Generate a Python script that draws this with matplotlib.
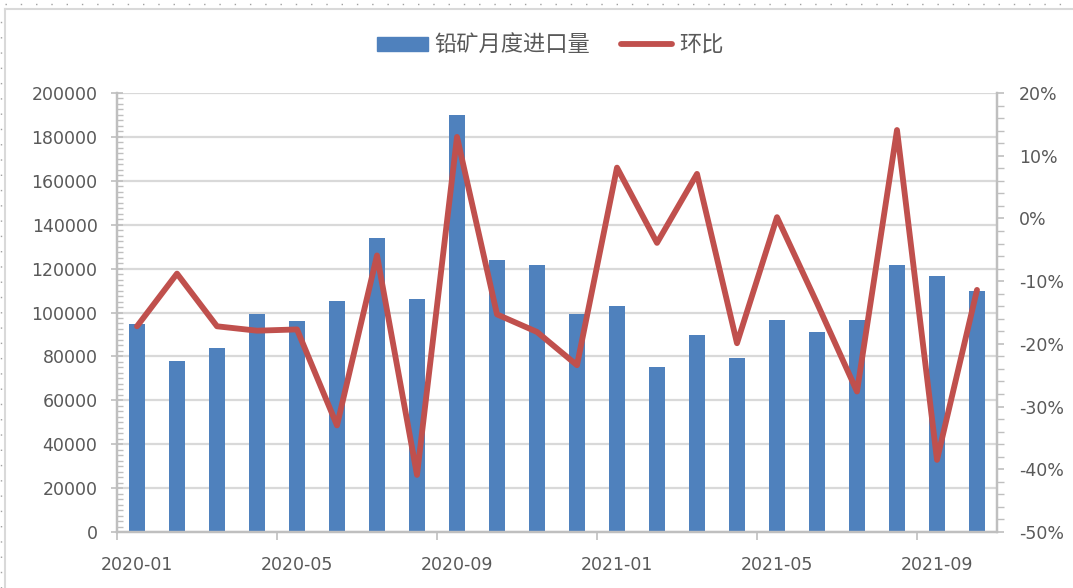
import numpy as np
import matplotlib.pyplot as plt
from matplotlib.ticker import MultipleLocator, FuncFormatter, FixedLocator
from matplotlib.lines import Line2D
from matplotlib.patches import Patch

months = ['2020-01', '2020-02', '2020-03', '2020-04', '2020-05', '2020-06',
          '2020-07', '2020-08', '2020-09', '2020-10', '2020-11', '2020-12',
          '2021-01', '2021-02', '2021-03', '2021-04', '2021-05', '2021-06',
          '2021-07', '2021-08', '2021-09', '2021-10']
imports = [94600, 78000, 83700, 99200, 96000, 105200, 133800, 106300, 190000,
           123900, 121800, 99200, 103000, 75300, 89700, 79400, 96400, 91000,
           96400, 121600, 116800, 109600]
mom = [-17.2, -8.8, -17.2, -17.9, -17.7, -33.0, -5.9, -40.9, 13.0, -15.3,
       -18.1, -23.4, 8.1, -3.9, 7.1, -19.9, 0.2, -13.5, -27.6, 14.1, -38.5,
       -11.4]

bar_label = '铅矿月度进口量'
line_label = '环比'

blue = '#4F81BD'
red = '#C0504D'
grid_c = '#D9D9D9'
axis_c = '#BFBFBF'
text_c = '#595959'

plt.rcParams['font.family'] = ['DejaVu Sans']

fig = plt.figure(figsize=(10.73, 5.88), dpi=100)
ax = fig.add_axes([117 / 1073, 1 - 532 / 588, 880 / 1073, 439 / 588])
ax2 = ax.twinx()

x = np.arange(len(months))
ax.bar(x, imports, width=0.4, color=blue, zorder=2)
ax2.plot(x, mom, color=red, lw=4.2, solid_joinstyle='round',
         solid_capstyle='round', zorder=3)

ax.set_xlim(-0.5, len(months) - 0.5)
ax.set_ylim(0, 200000)
ax2.set_ylim(-50, 20)

# gridlines / left axis
ax.yaxis.set_major_locator(MultipleLocator(20000))
ax.yaxis.set_minor_locator(MultipleLocator(2500))
ax.grid(axis='y', which='major', color=grid_c, lw=1.6, zorder=0)
ax.set_axisbelow(True)
ax.tick_params(axis='y', which='major', direction='inout', length=8,
               width=1.2, color=axis_c, labelsize=12.5, labelcolor=text_c,
               pad=10)
ax.tick_params(axis='y', which='minor', direction='in', length=4,
               width=1, color=axis_c)

# right axis
ax2.yaxis.set_major_locator(MultipleLocator(10))
ax2.yaxis.set_minor_locator(MultipleLocator(2))
ax2.yaxis.set_major_formatter(FuncFormatter(lambda v, p: '%d%%' % v))
ax2.tick_params(axis='y', which='major', direction='out', length=5,
                width=1.2, color=axis_c, labelsize=12.5, labelcolor=text_c,
                pad=11)
ax2.tick_params(axis='y', which='minor', direction='out', length=5,
                width=1, color=axis_c)

# x axis: ticks at month boundaries every 4 months, labels at month centres
ax.xaxis.set_major_locator(FixedLocator(np.arange(-0.5, len(months), 4)))
ax.xaxis.set_major_formatter(FuncFormatter(lambda v, p: ''))
ax.xaxis.set_minor_locator(FixedLocator(x[::4]))
ax.set_xticklabels([months[i] for i in x[::4]], minor=True)
ax.tick_params(axis='x', which='major', direction='out', length=6,
               width=1.2, color=axis_c)
ax.tick_params(axis='x', which='minor', length=0, labelsize=12.5,
               labelcolor=text_c, pad=17)

for a in (ax, ax2):
    for s in a.spines.values():
        s.set_color(axis_c)
        s.set_linewidth(1.6)
    a.spines['top'].set_visible(False)

handles = [Patch(facecolor=blue, edgecolor=blue),
           Line2D([0], [0], color=red, lw=4.2, solid_capstyle='round')]
fig.legend(handles, [bar_label, line_label], loc='center',
           bbox_to_anchor=(550 / 1073, 1 - 45 / 588), ncol=2, frameon=False,
           prop={'family': ['Noto Sans CJK SC', 'DejaVu Sans'], 'size': 16},
           labelcolor=text_c, handlelength=2.3, handleheight=0.6,
           handletextpad=0.3, columnspacing=1.4)

# chart area border and selection dots
fig.add_artist(Line2D([5 / 1073, 1], [1 - 9 / 588, 1 - 9 / 588],
                      color='#D9D9D9', lw=1.5))
fig.add_artist(Line2D([5 / 1073, 5 / 1073], [0, 1 - 9 / 588],
                      color='#D9D9D9', lw=1.5))
fig.add_artist(Line2D([5 / 1073, 1], [1 - 4 / 588, 1 - 4 / 588],
                      color='#A0A0A0', lw=1, ls=(0, (1, 10))))
fig.add_artist(Line2D([1 / 1073, 1 / 1073], [0, 1 - 12 / 588],
                      color='#A0A0A0', lw=1, ls=(0, (1, 10))))

fig.savefig('out.png', dpi=100)
